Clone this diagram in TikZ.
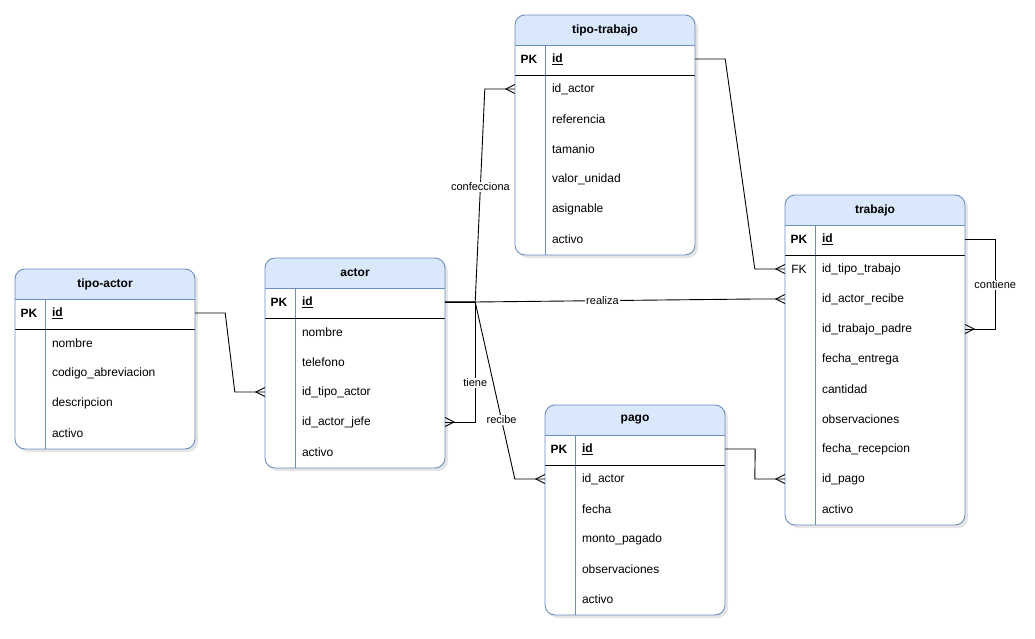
\documentclass[tikz,border=0pt]{standalone}
\usepackage{fontspec}
\setmainfont{Liberation Sans}
\usetikzlibrary{calc}
\definecolor{hdrfill}{HTML}{DAE8FC}
\definecolor{hdrline}{HTML}{6C8EBF}
\pgfdeclarearrow{
  name = crow,
  setup code = {
    \pgfarrowssettipend{0pt}
    \pgfarrowssetlineend{0pt}
    \pgfarrowssetvisualbackend{-9pt}
    \pgfarrowssetbackend{-9pt}
    \pgfarrowshullpoint{0pt}{4.5pt}
    \pgfarrowshullpoint{0pt}{-4.5pt}
    \pgfarrowshullpoint{-9pt}{0pt}
  },
  drawing code = {
    \pgfpathmoveto{\pgfqpoint{0pt}{4.5pt}}
    \pgfpathlineto{\pgfqpoint{-9pt}{0pt}}
    \pgfpathlineto{\pgfqpoint{0pt}{-4.5pt}}
    \pgfusepathqstroke
  },
}
\tikzset{
  blueline/.style={draw=hdrline, line width=0.9pt},
  shadowc/.style={fill=black, opacity=0.10},
  titlef/.style={font=\fontsize{12}{14}\selectfont\bfseries, inner sep=0pt},
  pkf/.style={font=\fontsize{12}{14}\selectfont\bfseries, inner sep=0pt},
  fkf/.style={font=\fontsize{12}{14}\selectfont, inner sep=0pt},
  fieldf/.style={font=\fontsize{12}{14}\selectfont, text width=106pt, inner xsep=37pt,
    inner ysep=0pt, minimum height=30pt, align=left},
  rel/.style={draw=black, line width=0.9pt, -crow},
  lbl/.style={font=\fontsize{11}{13}\selectfont, fill=white, inner sep=1pt},
}
\newcommand\erframe[5]{%
  \pgfmathsetmacro\erH{30+30*#5}
  \fill[shadowc, rounded corners=10pt] (#2+3,#3+3) rectangle ++(180,\erH);
  \begin{scope}
    \path[clip, rounded corners=10pt] (#2,#3) rectangle ++(180,\erH);
    \fill[white] (#2,#3) rectangle ++(180,\erH);
    \fill[hdrfill] (#2,#3) rectangle ++(180,30);
  \end{scope}
  \draw[blueline] (#2,#3+30) -- ++(180,0);
  \draw[blueline] (#2+30,#3+30) -- ++(0,\erH-30);
  \draw[black, line width=0.9pt] (#2,#3+60) -- ++(180,0);
  \draw[blueline, rounded corners=10pt] (#2,#3) rectangle ++(180,\erH);
  \node[titlef] (#1-title) at (#2+90,#3+15) {#4};
  \node[pkf] (#1-pk) at (#2+14,#3+44) {PK};
}
\newcommand\errow[5]{%
  \node[fieldf] (#1) at (#2+90,#3+44+30*#4) {#5};
}
\begin{document}
\begin{tikzpicture}[x=1pt,y=-1pt]
\useasboundingbox (0,0) rectangle (1035,639);
\fill[white] (0,0) rectangle (1035,639);

% tipo-actor
\erframe{ta}{15}{269}{tipo-actor}{5}
\errow{ta-id}{15}{269}{0}{\textbf{\underline{id}}}
\errow{ta-nombre}{15}{269}{1}{nombre}
\errow{ta-codigo}{15}{269}{2}{codigo\_abreviacion}
\errow{ta-desc}{15}{269}{3}{descripcion}
\errow{ta-activo}{15}{269}{4}{activo}

% actor
\erframe{a}{265}{258}{actor}{6}
\errow{a-id}{265}{258}{0}{\textbf{\underline{id}}}
\errow{a-nombre}{265}{258}{1}{nombre}
\errow{a-tel}{265}{258}{2}{telefono}
\errow{a-tipo}{265}{258}{3}{id\_tipo\_actor}
\errow{a-jefe}{265}{258}{4}{id\_actor\_jefe}
\errow{a-activo}{265}{258}{5}{activo}

% tipo-trabajo
\erframe{tt}{515}{15}{tipo-trabajo}{7}
\errow{tt-id}{515}{15}{0}{\textbf{\underline{id}}}
\errow{tt-actor}{515}{15}{1}{id\_actor}
\errow{tt-ref}{515}{15}{2}{referencia}
\errow{tt-tam}{515}{15}{3}{tamanio}
\errow{tt-valor}{515}{15}{4}{valor\_unidad}
\errow{tt-asig}{515}{15}{5}{asignable}
\errow{tt-activo}{515}{15}{6}{activo}

% trabajo
\erframe{t}{785}{195}{trabajo}{10}
\node[fkf] (t-fk) at (785+14,195+74) {FK};
\errow{t-id}{785}{195}{0}{\textbf{\underline{id}}}
\errow{t-tipo}{785}{195}{1}{id\_tipo\_trabajo}
\errow{t-actor}{785}{195}{2}{id\_actor\_recibe}
\errow{t-padre}{785}{195}{3}{id\_trabajo\_padre}
\errow{t-fent}{785}{195}{4}{fecha\_entrega}
\errow{t-cant}{785}{195}{5}{cantidad}
\errow{t-obs}{785}{195}{6}{observaciones}
\errow{t-frec}{785}{195}{7}{fecha\_recepcion}
\errow{t-pago}{785}{195}{8}{id\_pago}
\errow{t-activo}{785}{195}{9}{activo}

% pago
\erframe{p}{545}{405}{pago}{6}
\errow{p-id}{545}{405}{0}{\textbf{\underline{id}}}
\errow{p-actor}{545}{405}{1}{id\_actor}
\errow{p-fecha}{545}{405}{2}{fecha}
\errow{p-monto}{545}{405}{3}{monto\_pagado}
\errow{p-obs}{545}{405}{4}{observaciones}
\errow{p-activo}{545}{405}{5}{activo}

% connectors
\draw[rel] (ta-id.east) -- ++(30,0) -- ($(a-tipo.west)+(-30,0)$) -- (a-tipo.west);
\draw[rel] (a-id.east) -- ++(30,0) -- node[lbl,pos=0.455] (lbl-realiza) {realiza} ($(t-actor.west)+(-30,0)$) -- (t-actor.west);
\draw[rel] (a-id.east) -- ++(30,0) -- node[lbl,pos=0.54] (lbl-confecciona) {confecciona} ($(tt-actor.west)+(-30,0)$) -- (tt-actor.west);
\draw[rel] (a-id.east) -- ++(30,0) -- node[lbl,pos=0.675] (lbl-tiene) {tiene} ($(a-jefe.east)+(30,0)$) -- (a-jefe.east);
\draw[rel] (a-id.east) -- ++(30,0) -- node[lbl,pos=0.667] (lbl-recibe) {recibe} ($(p-actor.west)+(-30,0)$) -- (p-actor.west);
\draw[rel] (tt-id.east) -- ++(30,0) -- ($(t-tipo.west)+(-30,0)$) -- (t-tipo.west);
\draw[rel] (t-id.east) -- ++(30,0) -- node[lbl,pos=0.51] (lbl-contiene) {contiene} ($(t-padre.east)+(30,0)$) -- (t-padre.east);
\draw[rel] (p-id.east) -- ++(30,0) -- ($(t-pago.west)+(-30,0)$) -- (t-pago.west);
\end{tikzpicture}
\end{document}
